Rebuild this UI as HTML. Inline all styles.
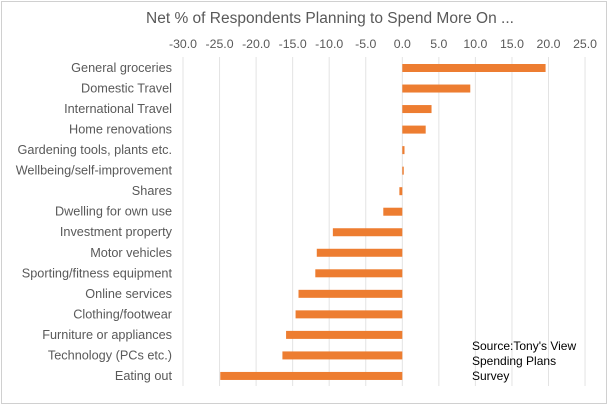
<!DOCTYPE html>
<html><head><meta charset="utf-8"><style>
body{margin:0;background:#fff;font-family:"Liberation Sans",sans-serif}
#frame{position:absolute;left:1px;top:1px;width:606px;height:403px;border:1px solid #d0d0d0;box-sizing:border-box}
</style></head><body>
<div id="frame"></div>
<svg id="c" width="610" height="407" style="position:absolute;left:0;top:0"></svg>
<script>
const categories=["General groceries","Domestic Travel","International Travel","Home renovations","Gardening tools, plants etc.","Wellbeing/self-improvement","Shares","Dwelling for own use","Investment property","Motor vehicles","Sporting/fitness equipment","Online services","Clothing/footwear","Furniture or appliances","Technology (PCs etc.)","Eating out"];
const values=[19.6,9.3,4.0,3.2,0.3,0.2,-0.4,-2.6,-9.5,-11.7,-11.9,-14.2,-14.6,-15.9,-16.4,-24.9];
const ticks=[-30,-25,-20,-15,-10,-5,0,5,10,15,20,25];
const NS="http://www.w3.org/2000/svg";
const svg=document.getElementById('c');
const x=v=>402.3+v*7.31;
const y=i=>68+i*20.53;
function mk(t,a){const e=document.createElementNS(NS,t);for(const k in a)e.setAttribute(k,a[k]);svg.appendChild(e);return e;}
const title=mk('text',{x:330,y:23,'text-anchor':'middle','font-size':15.5,fill:'#595959'});
title.textContent="Net % of Respondents Planning to Spend More On ...";


ticks.forEach(t=>{
 const g=mk('line',{x1:x(t),x2:x(t),y1:57,y2:386,stroke:'#e3e3e3','stroke-width':1});
 
 
 const l=mk('text',{x:x(t),y:48,'text-anchor':'middle','font-size':12.3,fill:'#595959'});
 l.textContent=t.toFixed(1);
 
 
});
categories.forEach((c,i)=>{
 const v=values[i];
 const r=mk('rect',{x:Math.min(x(0),x(v)),y:y(i)-4,width:Math.abs(x(v)-x(0)),height:8,fill:'#ed7d31'});
 
 
 const l=mk('text',{x:172,y:y(i)+4,'text-anchor':'end','font-size':12.7,fill:'#595959'});
 l.textContent=c;
 
 
});
const src=mk('text',{x:472,y:350,'font-size':12,fill:'#000'});


["Source:Tony's View","Spending Plans","Survey"].forEach((s,i)=>{const t=document.createElementNS(NS,'tspan');t.setAttribute('x',472);t.setAttribute('dy',i?15:0);t.textContent=s;src.appendChild(t);});
</script>
</body></html>
